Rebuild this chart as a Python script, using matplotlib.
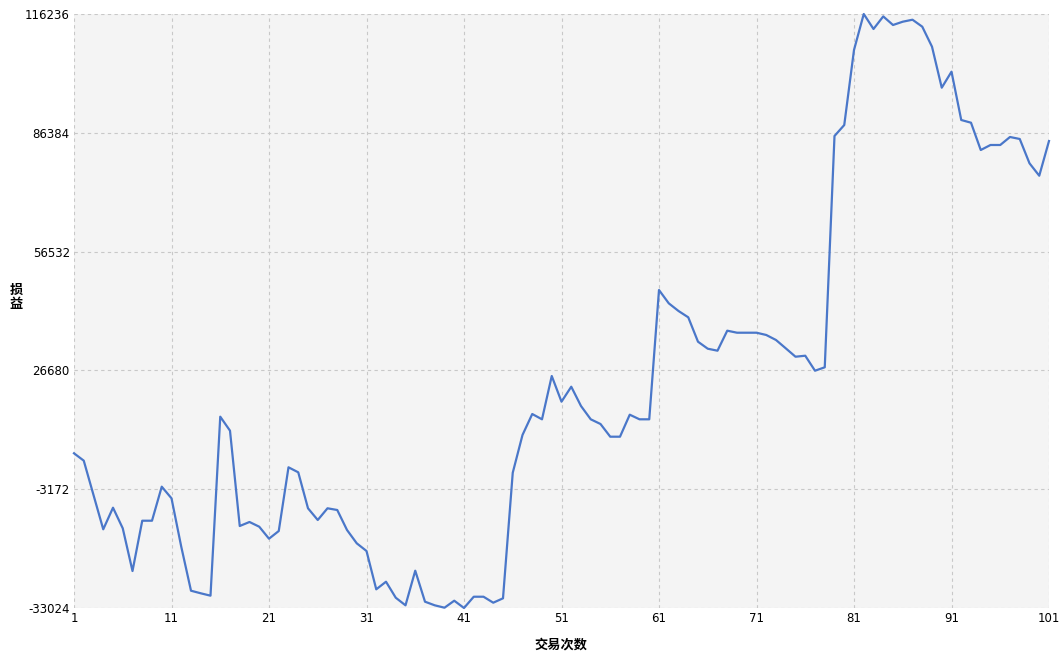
import numpy as np
import matplotlib
matplotlib.use('Agg')
import matplotlib.pyplot as plt

plt.rcParams['font.family'] = ['Noto Sans CJK SC', 'DejaVu Sans']

# 交易次数 1..101 对应的损益
trade_no = list(range(1, 102))
pnl = [
    5850, 4000, -4630, -13250, -7820, -13000, -23730, -11090, -11090, -2540,
    -5460, -17620, -28680, -29330, -29930, 15050, 11530, -12420, -11410, -12600,
    -15610, -13680, 2330, 1070, -7970, -10910, -7970, -8400, -13420, -16770,
    -18700, -28330, -26420, -30440, -32350, -23650, -31440, -32350, -32950, -31190,
    -33024, -30190, -30190, -31690, -30590, 970, 10450, 15720, 14390, 25270,
    18820, 22580, 17730, 14390, 13210, 10020, 10020, 15550, 14390, 14390,
    46880, 43540, 41610, 40020, 33890, 32130, 31630, 36660, 36150, 36150,
    36150, 35580, 34320, 32230, 30120, 30370, 26600, 27460, 85580, 88340,
    107190, 116236, 112470, 115630, 113470, 114300, 114800, 113050, 108020, 97720,
    101740, 89600, 88920, 82060, 83320, 83320, 85330, 84830, 78720, 75600,
    84320,
]
x_ticks = [1, 11, 21, 31, 41, 51, 61, 71, 81, 91, 101]
y_ticks = [-33024, -3172, 26680, 56532, 86384, 116236]

fig = plt.figure(figsize=(10.62, 6.69), dpi=100)
ax = fig.add_axes([74 / 1062, 61 / 669, 975 / 1062, 594 / 669])
ax.set_facecolor('#f4f4f4')

ax.plot(trade_no, pnl, color='#4a77c9', linewidth=1.6, clip_on=False)

ax.set_xlim(1, 101)
ax.set_ylim(-33024, 116236)
ax.set_xticks(x_ticks)
ax.set_yticks(y_ticks)
ax.set_xticklabels([str(t) for t in x_ticks], fontsize=8.5, family='DejaVu Sans')
ax.set_yticklabels([str(t) for t in y_ticks], fontsize=8.5, family='DejaVu Sans')
ax.tick_params(length=0, pad=3)
ax.grid(True, linestyle=(0, (3, 3)), color='#c8c8c8', linewidth=0.8)
ax.set_axisbelow(True)
for s in ax.spines.values():
    s.set_visible(False)

fig.text(561 / 1062, 1 - 645 / 669, '交易次数', ha='center', va='center',
         fontsize=9.5, fontweight='bold')
fig.text(16 / 1062, 1 - 297 / 669, '损\n益', ha='center', va='center',
         fontsize=9.5, fontweight='bold', linespacing=1.0)

fig.savefig('out.png', dpi=100)
